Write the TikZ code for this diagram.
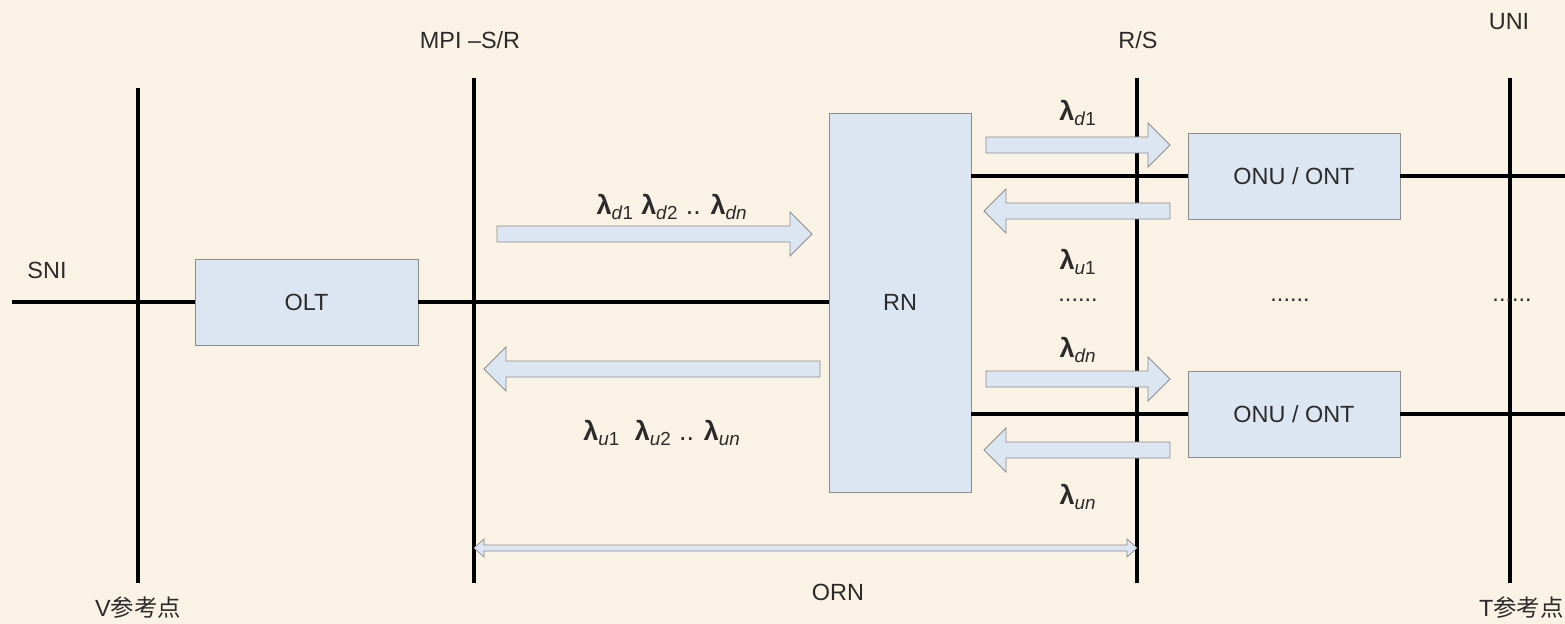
\documentclass[tikz,border=0pt]{standalone}
\usepackage{fontspec}
\setmainfont{Liberation Sans}
\newfontfamily\cjk{Noto Sans CJK SC}
\usetikzlibrary{positioning}

\definecolor{paper}{HTML}{FAF2E4}
\definecolor{boxfill}{HTML}{DCE6F2}
\definecolor{boxline}{HTML}{8C8C8C}
\definecolor{txt}{HTML}{2B2B2B}

% fat signal arrow: start x, end x, y
\newcommand{\fatarrow}[3]{%
  \pgfmathsetmacro{\arrdir}{sign(#2-#1)}%
  \pgfmathsetmacro{\arrhx}{#2-22*\arrdir}%
  \draw[bigarrow] (#1,#3-8) -- (\arrhx,#3-8) -- (\arrhx,#3-22) -- (#2,#3)
    -- (\arrhx,#3+22) -- (\arrhx,#3+8) -- (#1,#3+8) -- cycle;}
% wavelength symbol
\newcommand{\lamb}[1]{\textbf{λ}\textsubscript{#1}}

\begin{document}
\begin{tikzpicture}[
  x=0.03cm, y=-0.03cm,
  every node/.style={font=\fontsize{20}{24}\selectfont, text=txt},
  unitbox/.style={rectangle, draw=boxline, fill=boxfill, line width=0.8pt,
    inner sep=0pt},
  refline/.style={line width=3.2pt, black},
  fibre/.style={line width=2.8pt, black},
  bigarrow/.style={draw=boxline, fill=boxfill, line width=0.8pt},
  lam/.style={font=\fontsize{23}{26}\selectfont},
]

% background and page size
\fill[paper] (0,0) rectangle (1565,624);
\useasboundingbox (0,0) rectangle (1565,624);

% reference points
\coordinate (Vtop) at (138,88);   \coordinate (Vbot) at (138,583);
\coordinate (Mtop) at (474,78);   \coordinate (Mbot) at (474,583);
\coordinate (Rtop) at (1137,78);  \coordinate (Rbot) at (1137,583);
\coordinate (Utop) at (1510,78);  \coordinate (Ubot) at (1510,583);
\draw[refline] (Vtop) -- (Vbot);
\draw[refline] (Mtop) -- (Mbot);
\draw[refline] (Rtop) -- (Rbot);
\draw[refline] (Utop) -- (Ubot);

% units
\node[unitbox, minimum width=6.69cm, minimum height=2.58cm] (OLT) at (306.5,302) {OLT};
\node[unitbox, minimum width=4.26cm, minimum height=11.37cm] (RN) at (900,302.5) {RN};
\node[unitbox, minimum width=6.36cm, minimum height=2.58cm] (ONU1) at (1294,176) {ONU / ONT};
\node[unitbox, minimum width=6.36cm, minimum height=2.58cm] (ONU2) at (1294,414) {ONU / ONT};

% fibres
\coordinate (SNIend) at (12,302);
\coordinate (UNIend1) at (1565,176);
\coordinate (UNIend2) at (1565,414);
\draw[fibre] (SNIend) -- (OLT.west);
\draw[fibre] (OLT.east) -- (RN.west |- OLT.east);
\draw[fibre] (RN.east |- ONU1.west) -- (ONU1.west);
\draw[fibre] (RN.east |- ONU2.west) -- (ONU2.west);
\draw[fibre] (ONU1.east) -- (UNIend1);
\draw[fibre] (ONU2.east) -- (UNIend2);

% wavelength arrows
\fatarrow{497}{812}{234}
\fatarrow{820}{484}{369}
\fatarrow{986}{1170}{145}
\fatarrow{1170}{984}{211}
\fatarrow{986}{1170}{379}
\fatarrow{1170}{984}{450}

% ORN span
\draw[bigarrow, line width=0.6pt] (474,548) -- (484,539) -- (484,545) -- (1127,545)
  -- (1127,539) -- (1137,548) -- (1127,557) -- (1127,551) -- (484,551) -- (484,557) -- cycle;

% labels
\node (SNI) at (47,270) {SNI};
\node (MPI) at (470,40) {MPI –S/R};
\node (RS) at (1138,40) {R/S};
\node (UNI) at (1509,22) {UNI};
\node (Vref) at (138,608) {V\cjk 参考点};
\node[anchor=east, inner xsep=1pt] (Tref) at (1565,608) {T\cjk 参考点};
\node (ORN) at (838,592) {ORN};

\node[lam] (down) at (672,207) {\lamb{\textit{d}1} \lamb{\textit{d}2} .. \lamb{\textit{dn}}};
\node[lam] (up) at (662,433) {\lamb{\textit{u}1}\ \ \lamb{\textit{u}2} .. \lamb{\textit{un}}};
\node[lam] (d1) at (1078,113) {\lamb{\textit{d}1}};
\node[lam] (u1) at (1078,262) {\lamb{\textit{u}1}};
\node[lam] (dn) at (1078,350) {\lamb{\textit{dn}}};
\node[lam] (un) at (1078,497) {\lamb{\textit{un}}};

\node (dotsA) at (1078,300) {......};
\node (dotsB) at (1290,300) {......};
\node (dotsC) at (1512,300) {......};

\end{tikzpicture}
\end{document}
